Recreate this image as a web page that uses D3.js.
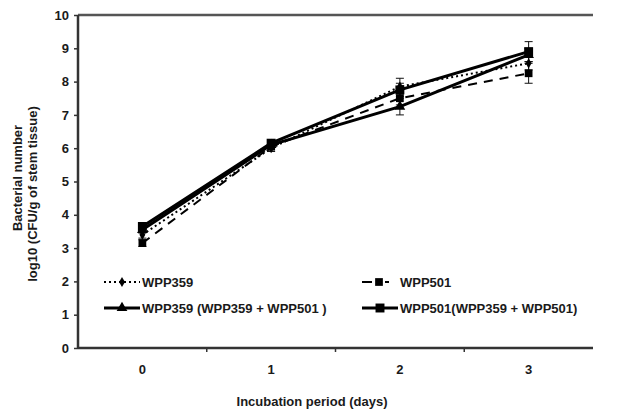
<!DOCTYPE html>
<html><head><meta charset="utf-8">
<script src="https://cdn.jsdelivr.net/npm/d3@7"></script>
<style>
body{margin:0;background:#fff;}
text{font-family:"Liberation Sans",Arial,sans-serif;font-weight:bold;fill:#1a1a1a;}
</style></head>
<body><svg id="c" width="636" height="413"></svg>
<script>
const days = ["0","1","2","3"];
const yTicks = [0,1,2,3,4,5,6,7,8,9,10];
const seriesNames = ["WPP359","WPP501","WPP359 (WPP359 + WPP501 )","WPP501(WPP359 + WPP501)"];
const wpp359 = [3.4, 6.0, 7.85, 8.55];
const wpp359Err = [0.1, 0.1, 0.25, 0.2];
const wpp501 = [3.15, 6.05, 7.5, 8.25];
const wpp501Err = [0.1, 0.1, 0.2, 0.3];
const mix359 = [3.55, 6.1, 7.25, 8.8];
const mix359Err = [0.1, 0.1, 0.25, 0.2];
const mix501 = [3.65, 6.15, 7.75, 8.9];
const mix501Err = [0.1, 0.1, 0.2, 0.3];

const svg = d3.select("#c");
const L = 78, R = 593, T = 15, B = 348;
const x = d3.scaleBand().domain(days).range([L, R]).padding(0);
const y = d3.scaleLinear().domain([0,10]).range([B, T]);
const cx = d => x(d) + x.bandwidth()/2;

// axes
const yAxis = svg.append("g").attr("transform",`translate(${L},0)`)
  .call(d3.axisLeft(y).tickValues(yTicks).tickSize(4).tickPadding(5).tickFormat(d3.format("d")));
yAxis.select(".domain").remove();
yAxis.selectAll(".tick line").attr("stroke","#333").attr("stroke-width",1.5);
yAxis.selectAll("text").attr("font-size",13);

const xAxis = svg.append("g").attr("transform",`translate(0,${B})`)
  .call(d3.axisBottom(x).tickSize(0).tickPadding(17));
xAxis.select(".domain").remove();
xAxis.selectAll("text").attr("font-size",13);
// boundary ticks
svg.append("g").selectAll("line").data(days.slice(1)).join("line")
  .attr("x1", d=>x(d)).attr("x2", d=>x(d)).attr("y1",B).attr("y2",B+4)
  .attr("stroke","#333").attr("stroke-width",1.5);

// frame lines
svg.append("line").attr("x1",L).attr("x2",R).attr("y1",B).attr("y2",B).attr("stroke","#333").attr("stroke-width",2.5);
svg.append("line").attr("x1",L).attr("x2",R).attr("y1",T).attr("y2",T).attr("stroke","#555").attr("stroke-width",2.5);
svg.append("line").attr("x1",L).attr("x2",L).attr("y1",T).attr("y2",B).attr("stroke","#333").attr("stroke-width",2.5);

// titles
svg.append("text").attr("transform","translate(22,178) rotate(-90)").attr("text-anchor","middle").attr("font-size",13).text("Bacterial number");
svg.append("text").attr("transform","translate(37,194) rotate(-90)").attr("text-anchor","middle").attr("font-size",13).text("log10 (CFU/g of stem tissue)");
svg.append("text").attr("x",312).attr("y",406).attr("text-anchor","middle").attr("font-size",13).text("Incubation period (days)");

const series = [
  {name:seriesNames[0], v:wpp359, e:wpp359Err, dash:"2,3", w:2, sym:d3.symbolDiamond, size:30},
  {name:seriesNames[1], v:wpp501, e:wpp501Err, dash:"9,7", w:2, sym:d3.symbolSquare, size:60},
  {name:seriesNames[2], v:mix359, e:mix359Err, dash:null, w:3, sym:d3.symbolTriangle, size:50},
  {name:seriesNames[3], v:mix501, e:mix501Err, dash:null, w:3, sym:d3.symbolSquare, size:80}
];

const line = d3.line().x((d,i)=>cx(days[i])).y(d=>y(d));
series.forEach(s=>{
  const g = svg.append("g");
  g.selectAll("line.eb").data(s.v).join("line")
    .attr("x1",(d,i)=>cx(days[i])).attr("x2",(d,i)=>cx(days[i]))
    .attr("y1",(d,i)=>y(d+s.e[i])).attr("y2",(d,i)=>y(d-s.e[i]))
    .attr("stroke","#111").attr("stroke-width",1);
  [1,-1].forEach(sg=>{
    g.append("g").selectAll("line").data(s.v).join("line")
      .attr("x1",(d,i)=>cx(days[i])-4).attr("x2",(d,i)=>cx(days[i])+4)
      .attr("y1",(d,i)=>y(d+sg*s.e[i])).attr("y2",(d,i)=>y(d+sg*s.e[i]))
      .attr("stroke","#111").attr("stroke-width",1);
  });
  svg.append("path").datum(s.v).attr("d",line).attr("fill","none")
    .attr("stroke","#000").attr("stroke-width",s.w).attr("stroke-dasharray",s.dash);
});
series.forEach(s=>{
  svg.append("g").selectAll("path").data(s.v).join("path")
    .attr("d", d3.symbol().type(s.sym).size(s.size))
    .attr("transform",(d,i)=>`translate(${cx(days[i])},${y(d)})`)
    .attr("fill","#000");
});

// legend
const legPos = [[104,282],[362,282],[104,308],[362,308]];
series.forEach((s,k)=>{
  const [lx,ly] = legPos[k];
  const g = svg.append("g");
  if(k===1){
    g.append("line").attr("x1",lx).attr("x2",lx+10).attr("y1",ly).attr("y2",ly).attr("stroke","#000").attr("stroke-width",2);
    g.append("line").attr("x1",lx+23).attr("x2",lx+27).attr("y1",ly).attr("y2",ly).attr("stroke","#000").attr("stroke-width",2);
    g.append("path").attr("d",d3.symbol().type(s.sym).size(s.size)).attr("transform",`translate(${lx+17},${ly})`).attr("fill","#000");
    g.append("text").attr("x",lx+38).attr("y",ly+4.5).attr("font-size",13).text(s.name);
  } else {
    g.append("line").attr("x1",lx).attr("x2",lx+36).attr("y1",ly).attr("y2",ly).attr("stroke","#000")
      .attr("stroke-width",s.w).attr("stroke-dasharray",s.dash);
    g.append("path").attr("d",d3.symbol().type(s.sym).size(s.size)).attr("transform",`translate(${lx+18},${ly})`).attr("fill","#000");
    g.append("text").attr("x",lx+38).attr("y",ly+4.5).attr("font-size",13).text(s.name);
  }
});
</script></body></html>
